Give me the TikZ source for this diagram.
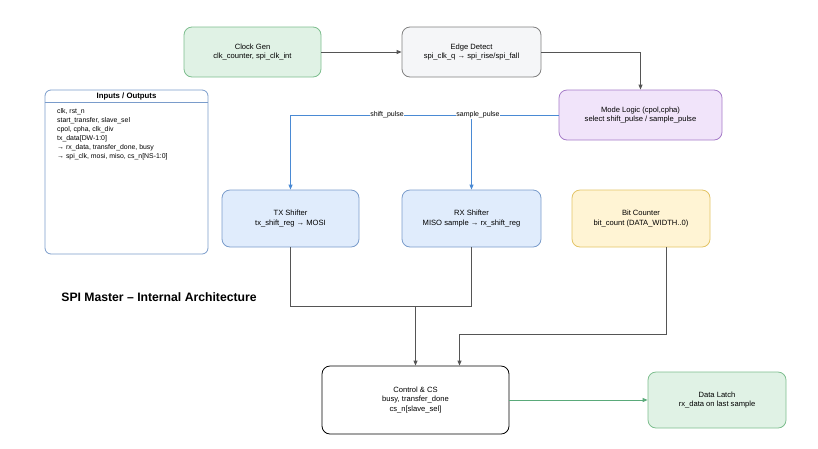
\documentclass[tikz,border=0pt]{standalone}
\usepackage{fontspec}
\setmainfont{Liberation Sans}
\usetikzlibrary{arrows.meta,positioning,calc}
\definecolor{greenfill}{HTML}{E0F2E5}
\definecolor{greenline}{HTML}{7DBE8E}
\definecolor{grayfill}{HTML}{F5F6F8}
\definecolor{grayline}{HTML}{808080}
\definecolor{purplefill}{HTML}{F1E4FA}
\definecolor{purpleline}{HTML}{A57BC8}
\definecolor{bluefill}{HTML}{E0ECFC}
\definecolor{blueline}{HTML}{7A9CCB}
\definecolor{yellowfill}{HTML}{FFF4D4}
\definecolor{yellowline}{HTML}{E3C466}
\definecolor{bluewire}{HTML}{4A8AD4}
\definecolor{graywire}{HTML}{555555}
\definecolor{greenwire}{HTML}{5AAA7A}
\tikzset{
  block/.style={rounded corners=8pt, align=center, font=\fontsize{7.6}{9.2}\selectfont,
    inner sep=0pt, line width=0.8pt},
  wire/.style={line width=0.9pt, -{Triangle[length=5pt,width=4pt]}},
  plainwire/.style={line width=0.9pt},
  lbl/.style={fill=white, inner sep=0.5pt, font=\fontsize{7}{8}\selectfont},
}
\begin{document}
\begin{tikzpicture}[x=1pt,y=-1pt]
\useasboundingbox (0,0) rectangle (818,448);

% main blocks
\node[block, draw=greenline, fill=greenfill, minimum width=137pt, minimum height=50pt]
  (cg) at (252.5,52) {Clock Gen\\clk\_counter, spi\_clk\_int};
\node[block, draw=grayline, fill=grayfill, minimum width=139pt, minimum height=50pt]
  (ed) at (471.5,52) {Edge Detect\\spi\_clk\_q → spi\_rise/spi\_fall};
\node[block, draw=purpleline, fill=purplefill, minimum width=163pt, minimum height=50pt]
  (ml) at (640.5,115) {Mode Logic (cpol,cpha)\\select shift\_pulse / sample\_pulse};
\node[block, draw=blueline, fill=bluefill, minimum width=137pt, minimum height=57pt]
  (tx) at (290.5,218.5) {TX Shifter\\tx\_shift\_reg → MOSI};
\node[block, draw=blueline, fill=bluefill, minimum width=139pt, minimum height=57pt]
  (rx) at (471.5,218.5) {RX Shifter\\MISO sample → rx\_shift\_reg};
\node[block, draw=yellowline, fill=yellowfill, minimum width=138pt, minimum height=57pt]
  (bc) at (641,218.5) {Bit Counter\\bit\_count (DATA\_WIDTH..0)};
\node[block, draw=black, fill=white, minimum width=187pt, minimum height=68pt]
  (ctl) at (415.5,400) {Control \& CS\\busy, transfer\_done\\cs\_n[slave\_sel]};
\node[block, draw=greenline, fill=greenfill, minimum width=138pt, minimum height=56pt]
  (dl) at (717,400) {Data Latch\\rx\_data on last sample};

% interface list
\node[draw=blueline, fill=white, rounded corners=6pt, line width=0.8pt,
  minimum width=163pt, minimum height=164pt, inner sep=0pt] (io) at (126.5,172) {};
\draw[blueline, line width=0.6pt] ([yshift=-13pt]io.north west) -- ([yshift=-13pt]io.north east);
\node[font=\bfseries\fontsize{7.8}{9}\selectfont, anchor=center] (ioh) at ([yshift=-7pt]io.north) {Inputs / Outputs};
\node[anchor=north west, align=left, inner sep=0pt, font=\fontsize{6.9}{9}\selectfont]
  (iol) at (57,108) {clk, rst\_n\\start\_transfer, slave\_sel\\cpol, cpha, clk\_div\\tx\_data[DW-1:0]\\→ rx\_data, transfer\_done, busy\\→ spi\_clk, mosi, miso, cs\_n[NS-1:0]};

% title
\node[font=\bfseries\fontsize{12.2}{14}\selectfont] (title) at (159,297) {SPI Master – Internal Architecture};

% clock path
\draw[wire, graywire] (cg.east) -- (ed.west);
\draw[wire, graywire] (ed.east) -| (ml.north);

% pulse distribution
\draw[wire, bluewire] (ml.west) -| (tx.north);
\draw[wire, bluewire] (ml.west) -| (rx.north);
\node[lbl] (sp) at (387,115) {shift\_pulse};
\node[lbl] (smp) at (478,115) {sample\_pulse};

% shifters merge into control
\coordinate (j1) at (415.5,306);
\draw[plainwire, graywire] (tx.south) |- (rx.south |- j1) -- (rx.south);
\draw[wire, graywire] (j1) -- (ctl.north);

% bit counter into control
\coordinate (bcout) at ([xshift=25pt]bc.south);
\coordinate (ctlin) at ([xshift=44pt]ctl.north);
\draw[wire, graywire] (bcout) -- (bcout |- 0,334) -| (ctlin);

% control to data latch
\draw[wire, greenwire] (ctl.east) -- (dl.west);
\end{tikzpicture}
\end{document}
